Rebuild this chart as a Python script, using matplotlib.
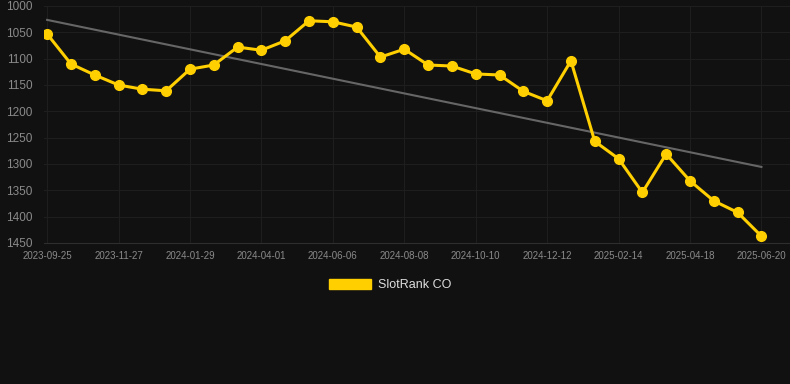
import numpy as np
import matplotlib
matplotlib.use("Agg")
import matplotlib.pyplot as plt
from matplotlib.patches import Patch

plt.rcParams['font.family'] = ['Liberation Sans', 'DejaVu Sans']

# data
ranks = [1053, 1110, 1131, 1150, 1158, 1161, 1120, 1112, 1078, 1084,
         1066, 1028, 1030, 1040, 1097, 1082, 1112, 1114, 1129, 1131,
         1162, 1180, 1104, 1257, 1290, 1354, 1281, 1332, 1370, 1392, 1437]
tick_labels = ["2023-09-25", "2023-11-27", "2024-01-29", "2024-04-01", "2024-06-06",
               "2024-08-08", "2024-10-10", "2024-12-12", "2025-02-14", "2025-04-18",
               "2025-06-20"]
series_name = "SlotRank CO"

bg = "#111111"
yellow = "#ffcf00"

fig = plt.figure(figsize=(7.9, 3.84), dpi=100, facecolor=bg)
ax = fig.add_axes([44 / 790, 1 - 243 / 384, 1 - 44 / 790, (243 - 6) / 384])
ax.set_facecolor(bg)

x = np.arange(len(ranks))

# trend line (least squares fit)
k, b = np.polyfit(x, ranks, 1)
ax.plot([x[0], x[-1]], [k * x[0] + b, k * x[-1] + b], color="#666666", lw=1.5, zorder=2)

ax.plot(x, ranks, color=yellow, lw=2.2, marker="o", markersize=7, zorder=3)

ax.set_ylim(1450, 1000)
ax.set_yticks(range(1000, 1451, 50))
ax.set_xlim(-0.13, 31.2)
ax.set_xticks(x[::3])
ax.set_xticklabels(tick_labels)

ax.grid(True, color="#1e1e1e", lw=0.8)
ax.set_axisbelow(True)
for s in ["top", "right", "left"]:
    ax.spines[s].set_visible(False)
ax.spines["bottom"].set_color("#2e2e2e")
ax.tick_params(axis="y", length=0, pad=8, labelsize=8.5, labelcolor="#8a8a8a")
ax.tick_params(axis="x", length=0, pad=6, labelsize=7, labelcolor="#8a8a8a")

fig.legend(handles=[Patch(color=yellow, label=series_name)], loc="center",
           bbox_to_anchor=(390 / 790, 1 - 285 / 384), frameon=False,
           handlelength=3.4, handleheight=0.9, handletextpad=0.5,
           labelcolor="#dddddd", fontsize=9)

fig.savefig("out.png", dpi=100, facecolor=bg)
